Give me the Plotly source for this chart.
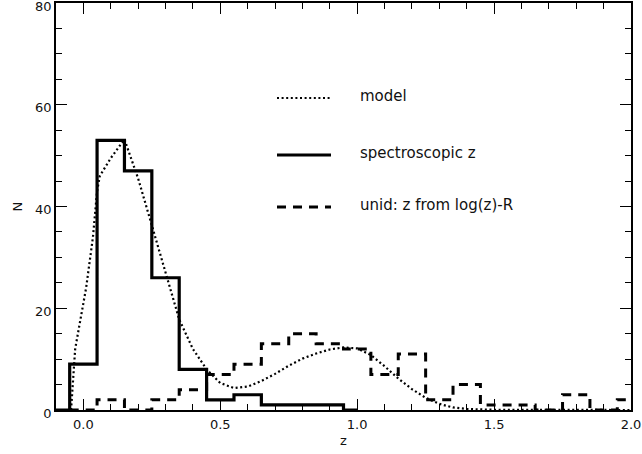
import plotly.graph_objects as go

# Spectroscopic redshift histogram (bin width 0.1, left bin edges)
spec_left_edges = [-0.05, 0.05, 0.15, 0.25, 0.35, 0.45, 0.55, 0.65, 0.75, 0.85, 0.95]
spec_counts = [9, 53, 47, 26, 8, 2, 3, 1, 1, 1, 0]
spec_end = 1.0

# Unidentified sources: redshift from log(z)-R relation
unid_left_edges = [-0.05, 0.05, 0.15, 0.25, 0.35, 0.45, 0.55, 0.65, 0.75, 0.85,
                   0.95, 1.05, 1.15, 1.25, 1.35, 1.45, 1.55, 1.65, 1.75, 1.85, 1.95]
unid_counts = [0, 2, 0, 2, 4, 7, 9, 13, 15, 13, 12, 7, 11, 2, 5, 1, 1, 0, 3, 0, 2]
unid_end = 2.0

# Model curve
model_z = [-0.045, -0.03, -0.01, 0.01, 0.035, 0.05, 0.06, 0.10, 0.15, 0.20, 0.25,
           0.30, 0.35, 0.40, 0.45, 0.50, 0.55, 0.60, 0.65, 0.70, 0.75, 0.80, 0.85,
           0.90, 0.95, 1.00, 1.05, 1.10, 1.15, 1.20, 1.25, 1.30, 1.35, 1.40, 1.50,
           1.70, 2.00]
model_n = [0, 12, 18, 24, 34, 43, 46, 49.5, 53.2, 45.5, 36.3, 27.2, 17.8, 12, 8,
           5.3, 4.3, 4.6, 5.7, 7.1, 8.7, 10.1, 11.1, 11.9, 12.3, 12.1, 10.8, 8.6,
           6.2, 4.1, 2.4, 1.2, 0.5, 0.2, 0.05, 0.02, 0]

x_tick_vals = [0.0, 0.5, 1.0, 1.5, 2.0]
x_tick_text = ["0.0", "0.5", "1.0", "1.5", "2.0"]
y_tick_vals = [0, 20, 40, 60, 80]
y_tick_text = ["0", "20", "40", "60", "80"]

legend_labels = ["model", "spectroscopic z", "unid: z from log(z)-R"]

FONT = "DejaVu Sans"
INK = "#111111"
DOT = "2px,2.6px"
DASH = "9px,7px"


def step_xy(left_edges, counts, end, start=None):
    xs = list(left_edges) + [end]
    ys = list(counts) + [counts[-1]]
    if start is not None:
        xs = [start] + xs
        ys = [0] + ys
    return xs, ys


fig = go.Figure()

sx, sy = step_xy(spec_left_edges, spec_counts, spec_end, start=-0.1)
fig.add_trace(go.Scatter(x=sx, y=sy, mode="lines", line_shape="hv",
                         line=dict(color="black", width=3.2), showlegend=False))

ux, uy = step_xy(unid_left_edges, unid_counts, unid_end)
fig.add_trace(go.Scatter(x=ux, y=uy, mode="lines", line_shape="hv",
                         line=dict(color="black", width=3, dash=DASH),
                         showlegend=False))

fig.add_trace(go.Scatter(x=model_z, y=model_n, mode="lines",
                         line=dict(color="black", width=2.2, dash=DOT),
                         showlegend=False))

# Hand-placed key: sample line plus label for each series
W, H, L, B = 575.0, 407.0, 56.0, 410.0
def px(xp):
    return (xp - L) / W
def py(yp):
    return (B - yp) / H

key_rows = [98, 155, 207]
key_dash = [DOT, "solid", DASH]
key_width = [2.2, 3.2, 3]
for row, dash, wdt, label in zip(key_rows, key_dash, key_width, legend_labels):
    fig.add_shape(type="line", xref="paper", yref="paper",
                  x0=px(277), x1=px(331), y0=py(row), y1=py(row),
                  line=dict(color="black", width=wdt, dash=dash))
    fig.add_annotation(xref="paper", yref="paper", x=px(358), y=py(row - 2),
                       text=label, showarrow=False, xanchor="left", yanchor="middle",
                       font=dict(family=FONT, size=15, color=INK))

axis_common = dict(
    showline=True, linecolor="black", linewidth=1.5, mirror="allticks",
    ticks="inside", ticklen=11, tickwidth=1, tickcolor="black",
    showgrid=False, zeroline=False, ticklabeloverflow="allow", automargin=False,
    tickfont=dict(family=FONT, size=13, color=INK),
)

fig.update_xaxes(range=[-0.1, 2.0], tickvals=x_tick_vals, ticktext=x_tick_text,
                 minor=dict(ticks="inside", ticklen=6, dtick=0.1, tick0=0,
                            tickcolor="black", tickwidth=1, showgrid=False),
                 ticklabelstandoff=2,
                 title=dict(text="z", font=dict(family=FONT, size=13, color=INK),
                            standoff=5),
                 **axis_common)
fig.update_yaxes(range=[0, 80], tickvals=y_tick_vals, ticktext=y_tick_text,
                 minor=dict(ticks="inside", ticklen=6, dtick=5, tick0=0,
                            tickcolor="black", tickwidth=1, showgrid=False),
                 ticklabelshift=3,
                 title=dict(text="N", font=dict(family=FONT, size=13, color=INK),
                            standoff=10),
                 **axis_common)

fig.update_layout(
    width=642, height=454,
    margin=dict(l=56, r=11, t=3, b=44),
    paper_bgcolor="white", plot_bgcolor="white",
    showlegend=False,
)

fig.write_html("out.html")
